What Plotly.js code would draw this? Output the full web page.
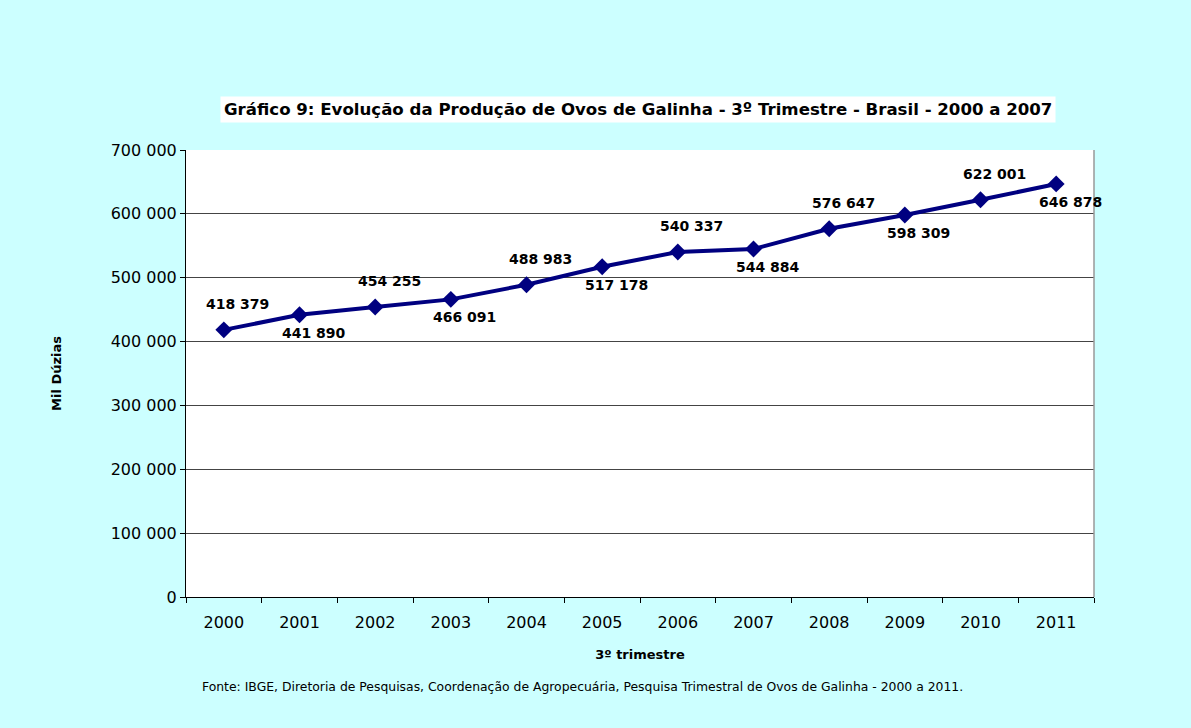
<!DOCTYPE html>
<html>
<head>
<meta charset="utf-8">
<script src="https://cdn.plot.ly/plotly-3.0.1.min.js"></script>
<style>html,body{margin:0;padding:0;background:#CCFFFF;}#chart{width:1191px;height:728px;}</style>
</head>
<body>
<div id="chart"></div>
<script>
const years = [2000, 2001, 2002, 2003, 2004, 2005, 2006, 2007, 2008, 2009, 2010, 2011];
const production = [418379, 441890, 454255, 466091, 488983, 517178, 540337, 544884, 576647, 598309, 622001, 646878];
const labelText = ['418 379','441 890','454 255','466 091','488 983','517 178','540 337','544 884','576 647','598 309','622 001','646 878'];
const labelAbove = [true,false,true,false,true,false,true,false,true,false,true,false];
const yTickVals = [0,100000,200000,300000,400000,500000,600000,700000];
const yTickText = ['0','100 000','200 000','300 000','400 000','500 000','600 000','700 000'];
const xTickText = years.map(String);

const annotations = years.map((yr,i)=>({
  x: yr, y: production[i], xref:'x', yref:'y',
  text: labelText[i], showarrow:false,
  xshift: 14, yshift: labelAbove[i] ? 26 : -18,
  font:{family:'DejaVu Sans', size:14, color:'#000', weight:'bold'}
}));
annotations.push({
  xref:'paper', yref:'paper', x:0.5, y:1, yshift:54, xshift:-2,
  text:'Gráfico 9: Evolução da Produção de Ovos de Galinha - 3º Trimestre - Brasil - 2000 a 2007',
  showarrow:false, bgcolor:'#FFFFFF', borderpad:3,
  font:{family:'DejaVu Sans', size:16.6, color:'#000', weight:'bold'}
});
annotations.push({
  xref:'paper', yref:'paper', x:0.437, y:0, yshift:-99,
  text:'Fonte: IBGE, Diretoria de Pesquisas, Coordenação de Agropecuária, Pesquisa Trimestral de Ovos de Galinha - 2000 a 2011.',
  showarrow:false,
  font:{family:'DejaVu Sans', size:12.4, color:'#000'}
});

const trace = {
  x: years, y: production, type:'scatter', mode:'lines+markers',
  line:{color:'#000080', width:4},
  marker:{symbol:'diamond', size:13, color:'#000080'},
  hoverinfo:'skip'
};

const layout = {
  width:1191, height:728,
  paper_bgcolor:'#CCFFFF', plot_bgcolor:'#FFFFFF',
  margin:{l:186, r:97, t:150, b:131},
  showlegend:false,
  xaxis:{
    range:[1999.5, 2011.5], tickvals:years, ticktext:xTickText, ticks:'',
    minor:{tick0:1999.5, dtick:1, ticks:'outside', ticklen:5, tickcolor:'#000', showgrid:false},
    showline:true, linecolor:'#000', linewidth:1, showgrid:false, zeroline:false,
    ticklabelstandoff:11,
    tickfont:{family:'DejaVu Sans', size:16, color:'#000'},
    title:{text:'3º trimestre', standoff:18, font:{family:'DejaVu Sans', size:13, color:'#000', weight:'bold'}}
  },
  yaxis:{
    range:[0,700000], tickvals:yTickVals, ticktext:yTickText,
    ticks:'outside', ticklen:5, tickcolor:'#000',
    showline:true, linecolor:'#000', linewidth:1,
    showgrid:true, gridcolor:'#444', gridwidth:1, zeroline:false,
    tickfont:{family:'DejaVu Sans', size:16, color:'#000'},
    title:{text:'Mil Dúzias', standoff:46, font:{family:'DejaVu Sans', size:13, color:'#000', weight:'bold'}}
  },
  shapes:[{type:'line', xref:'paper', yref:'paper', x0:1, x1:1, y0:0, y1:1, line:{color:'#999', width:1.5}}],
  annotations: annotations
};

Plotly.newPlot('chart',[trace],layout,{displayModeBar:false, staticPlot:true});
</script>
</body>
</html>
